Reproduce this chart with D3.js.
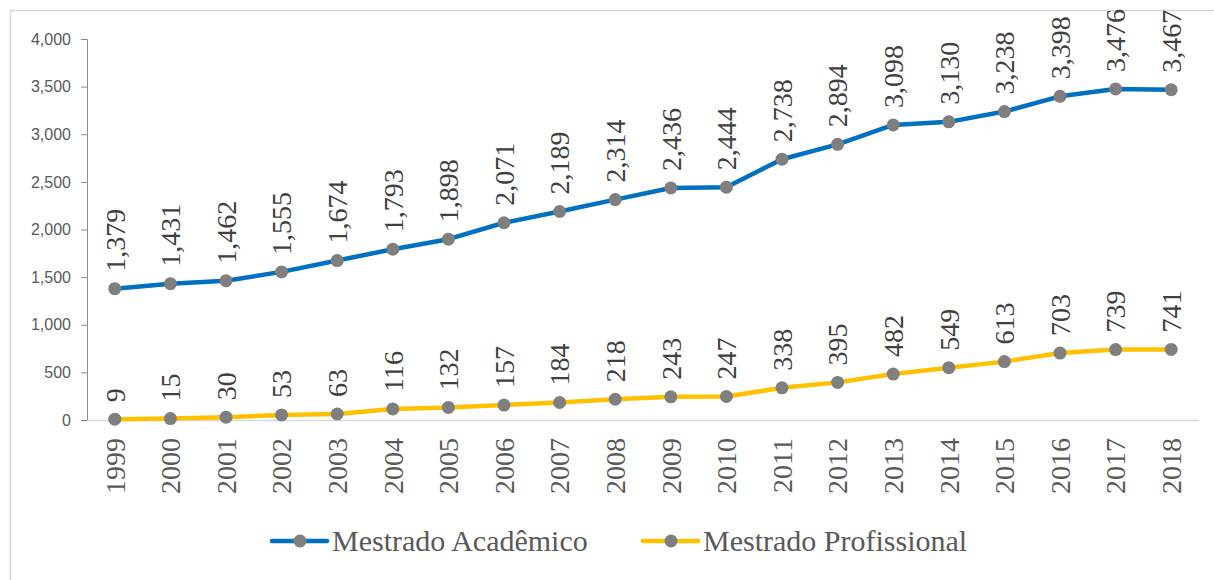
<!DOCTYPE html>
<html>
<head>
<meta charset="utf-8">
<script src="https://d3js.org/d3.v7.min.js"></script>
<style>
  body { margin: 0; background: #ffffff; }
</style>
</head>
<body>
<div id="chart"></div>
<script>
// chart data
var years = ["1999","2000","2001","2002","2003","2004","2005","2006","2007","2008",
             "2009","2010","2011","2012","2013","2014","2015","2016","2017","2018"];
var academico = [1379,1431,1462,1555,1674,1793,1898,2071,2189,2314,
                 2436,2444,2738,2894,3098,3130,3238,3398,3476,3467];
var profissional = [9,15,30,53,63,116,132,157,184,218,
                    243,247,338,395,482,549,613,703,739,741];
var yTicks = [0,500,1000,1500,2000,2500,3000,3500,4000];
var seriesNames = ["Mestrado Acadêmico","Mestrado Profissional"];
var seriesColors = ["#0070c0","#ffc000"];

var W = 1214, H = 580;
var margin = {top: 39, left: 87};
var width = 1199 - margin.left;
var height = 420 - margin.top;

var serifFont = "'Liberation Serif'";

var svg = d3.select("#chart")
    .append("svg")
    .attr("width", W)
    .attr("height", H);

// outer frame
svg.append("rect")
    .attr("x", 10.5)
    .attr("y", 10.5)
    .attr("width", W)
    .attr("height", H)
    .attr("fill", "none")
    .attr("stroke", "#d9d9d9")
    .attr("stroke-width", 1.5);

var g = svg.append("g")
    .attr("transform", "translate(" + margin.left + "," + margin.top + ")");

var x = d3.scaleBand()
    .domain(years)
    .range([0, width]);

var y = d3.scaleLinear()
    .domain([0, 4000])
    .range([height, 0]);

// y axis
var yAxis = g.append("g")
    .call(d3.axisLeft(y)
        .tickValues(yTicks)
        .tickSize(6)
        .tickPadding(10)
        .tickFormat(d3.format(",")));
yAxis.select(".domain").attr("stroke", "#8c8c8c");
yAxis.selectAll(".tick line").attr("stroke", "#8c8c8c");
yAxis.selectAll("text")
    .attr("fill", "#595959")
    .style("font-family", "'Liberation Sans'")
    .style("font-size", "16px");

// x axis
var xAxis = g.append("g")
    .attr("transform", "translate(0," + height + ")")
    .call(d3.axisBottom(x).tickSize(0).tickSizeOuter(0));
xAxis.attr("font-family", null);
xAxis.select(".domain").attr("stroke", "#d9d9d9").attr("stroke-width", 1.5);
xAxis.selectAll("text")
    .attr("transform", "rotate(-90)")
    .attr("x", -18)
    .attr("y", 0)
    .attr("dy", "0.35em")
    .attr("text-anchor", "end")
    .attr("fill", "#595959")
    .style("font-family", serifFont)
    .style("font-size", "28px");

var cx = function(i) { return x(years[i]) + x.bandwidth() / 2; };

var line = d3.line()
    .x(function(d, i) { return cx(i); })
    .y(function(d) { return y(d); });

var drawSeries = function(values, color) {
    g.append("path")
        .datum(values)
        .attr("fill", "none")
        .attr("stroke", color)
        .attr("stroke-width", 4.5)
        .attr("stroke-linejoin", "round")
        .attr("d", line);

    g.append("g").selectAll("circle")
        .data(values)
        .enter()
        .append("circle")
        .attr("cx", function(d, i) { return cx(i); })
        .attr("cy", function(d) { return y(d); })
        .attr("r", 6.5)
        .attr("fill", "#7f7f7f");

    g.append("g").selectAll("text")
        .data(values)
        .enter()
        .append("text")
        .attr("transform", function(d, i) {
            return "translate(" + cx(i) + "," + (y(d) - 17) + ") rotate(-90)";
        })
        .attr("dy", "0.35em")
        .attr("text-anchor", "start")
        .attr("fill", "#404040")
        .style("font-family", serifFont)
        .style("font-size", "28px")
        .text(function(d) { return d3.format(",")(d); });
};

drawSeries(academico, seriesColors[0]);
drawSeries(profissional, seriesColors[1]);

// legend
var legendX = [272, 643];
var legend = svg.append("g")
    .selectAll("g")
    .data(seriesNames)
    .enter()
    .append("g")
    .attr("transform", function(d, i) { return "translate(" + legendX[i] + ",541)"; });

legend.append("line")
    .attr("x1", 0)
    .attr("x2", 55)
    .attr("stroke", function(d, i) { return seriesColors[i]; })
    .attr("stroke-width", 4.5)
    .attr("stroke-linecap", "round");

legend.append("circle")
    .attr("cx", 28)
    .attr("r", 6.5)
    .attr("fill", "#7f7f7f");

legend.append("text")
    .attr("x", 60)
    .attr("y", 10)
    .attr("fill", "#595959")
    .style("font-family", serifFont)
    .style("font-size", "30px")
    .text(function(d) { return d; });
</script>
</body>
</html>
